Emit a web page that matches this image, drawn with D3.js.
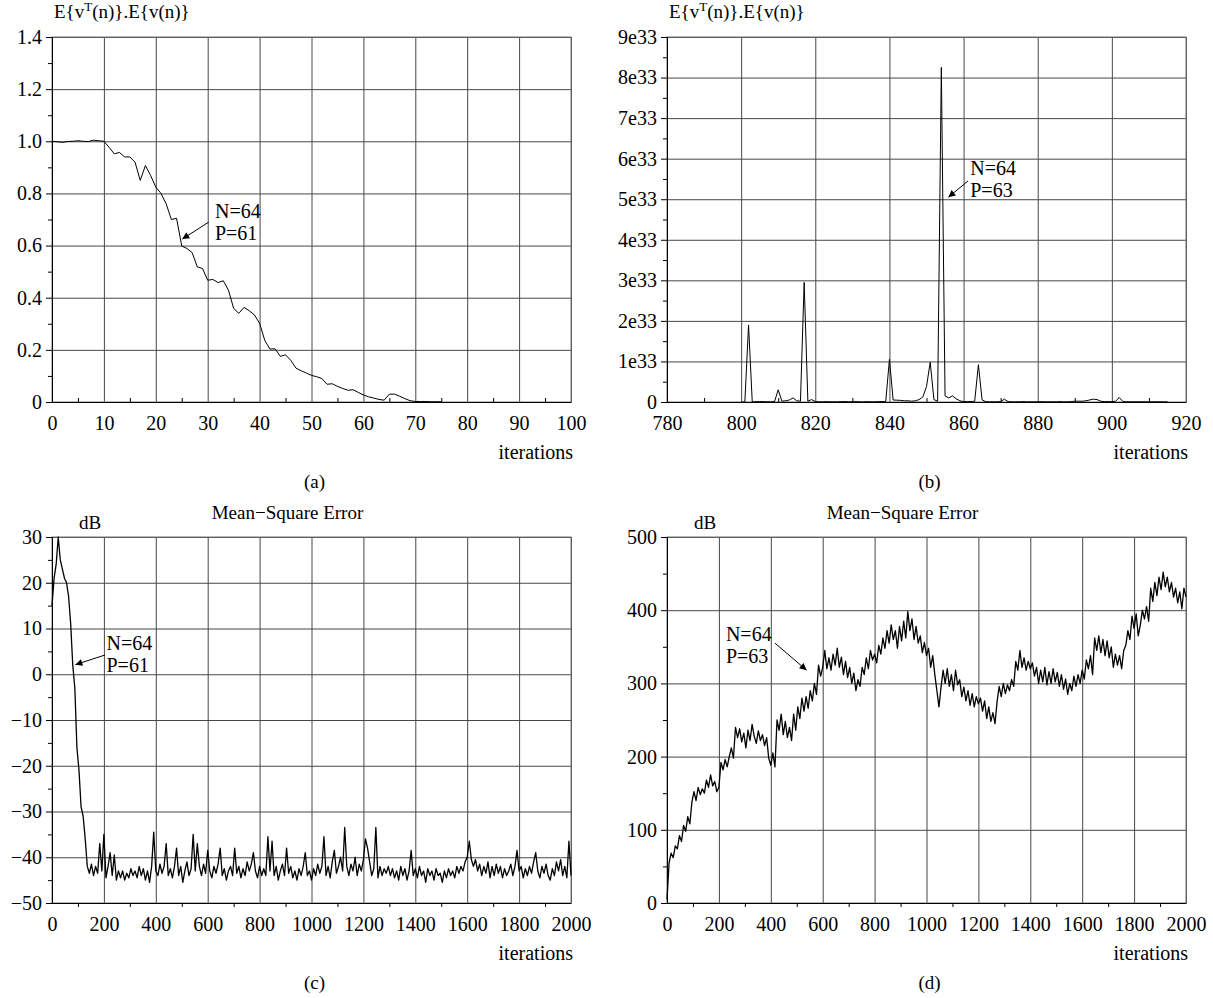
<!DOCTYPE html>
<html>
<head>
<meta charset="utf-8">
<script src="https://cdn.jsdelivr.net/npm/d3@7"></script>
<style>
  body { margin: 0; background: #fff; }
  svg text { font-family: "Liberation Serif", "Times New Roman", serif; fill: #000; }
</style>
</head>
<body>
<svg id="chart" width="1213" height="998"></svg>
<script>
// (a) E{v^T(n)}.E{v(n)}, iterations 0..75
const aStart = 0;
const aValues = [1.0, 0.998, 0.996, 0.999, 1.0, 1.002, 1.0, 0.999, 1.004, 1.002,
  1.0, 0.977, 0.952, 0.957, 0.94, 0.94, 0.92, 0.85, 0.907, 0.869,
  0.824, 0.80, 0.76, 0.70, 0.705, 0.598, 0.589, 0.573, 0.518, 0.512,
  0.467, 0.47, 0.458, 0.465, 0.429, 0.359, 0.34, 0.363, 0.35, 0.334,
  0.302, 0.236, 0.203, 0.204, 0.175, 0.181, 0.16, 0.13, 0.12, 0.111,
  0.102, 0.097, 0.09, 0.068, 0.07, 0.06, 0.052, 0.045, 0.047, 0.037,
  0.027, 0.02, 0.015, 0.01, 0.007, 0.03, 0.03, 0.022, 0.013, 0.005,
  0.002, 0.002, 0.002, 0.001, 0.001, 0.001];

// (b) same quantity, iterations 800..915, in units of 1e33
const bStart = 800;
const bValues = [0, 0, 1.9, 0, 0.01, 0.01, 0.01, 0.005, 0.005, 0.01,
  0.3, 0.02, 0.03, 0.05, 0.1, 0.03, 0.02, 2.95, 0.02, 0.06,
  0.01, 0.005, 0.005, 0.01, 0.005, 0.005, 0.005, 0.01, 0.01, 0.005,
  0.005, 0.01, 0.005, 0.005, 0.01, 0.005, 0.005, 0.01, 0.01, 0.01,
  1.05, 0.05, 0.045, 0.04, 0.03, 0.03, 0.02, 0.03, 0.06, 0.12,
  0.38, 0.98, 0.06, 0.02, 8.25, 0.15, 0.1, 0.15, 0.08, 0.03,
  0.01, 0.01, 0.01, 0.02, 0.92, 0.05, 0.01, 0.005, 0.005, 0.005,
  0.01, 0.07, 0.01, 0.005, 0.005, 0.005, 0.01, 0.005, 0.005, 0.005,
  0.005, 0.01, 0.005, 0.005, 0.005, 0.005, 0.01, 0.005, 0.005, 0.01,
  0.02, 0.02, 0.02, 0.03, 0.05, 0.07, 0.06, 0.02, 0.01, 0.01,
  0.01, 0.02, 0.11, 0.01, 0.005, 0.005, 0.005, 0.005, 0.005, 0.005,
  0.005, 0.005, 0.005, 0.005, 0.005, 0.005];

// (c) Mean-Square Error in dB, sampled every 8 iterations
const cStep = 8;
const cValues = [15, 21, 24, 30, 25, 23, 21, 20, 17, 11, 2, -3, -16, -21, -29, -31, -36,
  -42, -43.5, -41.5, -44, -42, -43.5, -37, -43, -35,
  -44.5, -42, -39, -44, -39.5, -45, -43, -44.5, -43, -45, -43.5, -44.5, -42.5, -44, -43, -44.5, -42, -44, -42.5, -45, -43, -45.5, -42, -34.5, -43,
  -44, -41.5, -43.5, -42, -37, -44, -42.5, -44.5, -42, -38, -44, -42, -45.5, -43, -41, -44, -42.5, -35, -43, -37, -42, -44, -41.5, -43.5, -38.5,
  -43, -44.5, -42, -43.5, -41.5, -38, -44, -42.5, -45, -43, -42, -44, -38, -43.5, -42, -44.5, -42.5, -44, -41, -43, -41.5, -39, -43, -44.5, -42,
  -44, -42.5, -44, -35.5, -43, -36.5, -44, -42, -45, -43, -41.5, -44, -38, -43.5, -42, -44.5, -43, -45, -42.5, -44, -42, -39, -44, -43, -45,
  -42.5, -44, -41.5, -43.5, -42, -35.5, -44, -42, -44.5, -41, -38.5, -43.5, -42, -40, -43, -33.5, -42, -44, -41.5, -43, -40, -44, -41.5, -43, -40.5,
  -36, -38, -41, -44, -42.5, -33.5, -44.5, -42, -44, -42.5, -43.5, -42, -44, -42.5, -44.5, -43, -45, -42, -44, -42.5, -45, -43, -38.5, -44, -42.5,
  -44.5, -42, -44, -43, -45.5, -42.5, -44, -43, -45, -42.5, -44, -43.5, -45.5, -43, -44.5, -42.5, -44, -43, -44.5, -42, -43.5, -42, -43, -41, -40,
  -36.5, -40.5, -42, -40.5, -43, -41.5, -44, -42, -43.5, -41, -44.5, -42, -44, -41.5, -43.5, -42, -44.5, -42.5, -44, -43, -41.5, -44, -42, -38.5, -43,
  -42, -44.5, -42.5, -44, -42, -43.5, -41, -39, -43, -44.5, -42, -43.5, -41.5, -44, -45, -42.5, -44, -41, -43, -40.5, -44, -42, -44.5, -36.5, -44];

// (d) Mean-Square Error in dB, sampled every 8 iterations
const dStep = 8;
const dValues = [5, 55, 68, 62, 78, 74, 92, 84, 106, 98, 118, 108, 138, 152, 140, 158, 148, 156, 150, 168, 158, 175, 160, 166, 152, 158,
  192, 182, 196, 186, 200, 212, 198, 240, 226, 238, 220, 232, 212, 236, 222, 244, 228, 218, 235, 222, 230, 215, 226, 198, 188,
  205, 186, 250, 236, 258, 230, 248, 226, 240, 222, 258, 236, 268, 252, 280, 262, 282, 266, 290, 276, 300, 285, 325, 310, 322,
  345, 320, 335, 318, 340, 325, 348, 322, 336, 312, 330, 308, 322, 300, 314, 290, 305, 296, 322, 312, 335, 320, 345, 332, 340,
  328, 352, 340, 362, 348, 372, 355, 380, 360, 372, 348, 378, 358, 385, 362, 398, 372, 388, 360, 378, 355, 365, 342, 356, 338,
  348, 322, 338, 312, 290, 268, 295, 318, 300, 320, 296, 312, 290, 318, 298, 305, 282, 295, 276, 290, 270, 286, 268, 282, 272,
  280, 262, 276, 252, 268, 248, 260, 245, 275, 296, 282, 300, 286, 298, 290, 305, 296, 330, 318, 345, 322, 335, 318, 330, 320,
  328, 310, 322, 300, 318, 302, 322, 298, 316, 300, 320, 302, 315, 296, 312, 292, 306, 285, 300, 290, 310, 296, 312, 300, 318,
  306, 332, 320, 338, 312, 362, 345, 365, 342, 360, 338, 358, 335, 350, 322, 340, 325, 338, 320, 345, 352, 372, 360, 392, 375,
  395, 365, 380, 400, 388, 405, 385, 430, 412, 438, 420, 445, 428, 452, 432, 445, 425, 438, 418, 430, 410, 425, 402, 430, 418];

const aData = aValues.map((v, i) => [aStart + i, v]);
const bData = bValues.map((v, i) => [bStart + i, v]);
const cData = cValues.map((v, i) => [i * cStep, v]);
const dData = dValues.map((v, i) => [i * dStep, v]);

const svg = d3.select("#chart");
svg.append("rect").attr("width", 1213).attr("height", 998).attr("fill", "#fff");

svg.append("defs").append("marker")
  .attr("id", "arrow")
  .attr("viewBox", "0 0 10 10")
  .attr("refX", 10).attr("refY", 5)
  .attr("markerWidth", 9).attr("markerHeight", 7)
  .attr("markerUnits", "userSpaceOnUse")
  .attr("orient", "auto")
  .append("path").attr("d", "M0,0L10,5L0,10z").attr("fill", "#000");

const yTitle = (g, x, y) => {
  const t = g.append("text").attr("x", x).attr("y", y).style("font-size", "19px");
  t.append("tspan").text("E{v");
  t.append("tspan").attr("dy", -7).style("font-size", "13px").text("T");
  t.append("tspan").attr("dy", 7).text("(n)}.E{v(n)}");
};

function drawPanel(p) {
  const x = d3.scaleLinear().domain(p.xDomain).range([p.left, p.right]);
  const y = d3.scaleLinear().domain(p.yDomain).range([p.bottom, p.top]);
  const g = svg.append("g");
  const w = p.right - p.left, h = p.bottom - p.top;

  // grid
  g.append("g").attr("transform", `translate(0,${p.bottom})`)
    .call(d3.axisBottom(x).tickValues(p.xTicks).tickSize(-h).tickFormat(""))
    .call(s => s.select(".domain").remove())
    .selectAll("line").attr("stroke", "#474747");
  g.append("g").attr("transform", `translate(${p.left},0)`)
    .call(d3.axisLeft(y).tickValues(p.yTicks).tickSize(-w).tickFormat(""))
    .call(s => s.select(".domain").remove())
    .selectAll("line").attr("stroke", "#474747");

  // frame
  g.append("rect").attr("x", p.left).attr("y", p.top).attr("width", w).attr("height", h)
    .attr("fill", "none").attr("stroke", "#777");

  // minor ticks
  g.append("g").attr("transform", `translate(0,${p.bottom})`)
    .call(d3.axisBottom(x).tickValues(p.xMinor).tickSize(p.xMinorIn ? -4 : 4).tickFormat(""))
    .call(s => s.select(".domain").remove());
  g.append("g").attr("transform", `translate(${p.left},0)`)
    .call(d3.axisLeft(y).tickValues(p.yMinor).tickSize(4).tickFormat(""))
    .call(s => s.select(".domain").remove());

  // main axes
  const ax = g.append("g").attr("transform", `translate(0,${p.bottom})`)
    .call(d3.axisBottom(x).tickValues(p.xTicks).tickSize(0).tickPadding(14).tickFormat(d3.format("d")));
  const ay = g.append("g").attr("transform", `translate(${p.left},0)`)
    .call(d3.axisLeft(y).tickValues(p.yTicks).tickSize(6).tickPadding(4).tickFormat(p.yFormat));
  [ax, ay].forEach(a => {
    a.attr("font-family", null).attr("font-size", null);
    a.selectAll("text").style("font-size", "20px");
    a.select(".domain").attr("stroke", "#000");
  });

  // data line
  g.append("path").datum(p.data)
    .attr("fill", "none").attr("stroke", "#000").attr("stroke-width", p.lineWidth)
    .attr("stroke-linejoin", "round")
    .attr("d", d3.line().x(d => x(d[0])).y(d => y(d[1])));

  // texts
  g.append("text").attr("x", p.right + 2).attr("y", p.bottom + 57)
    .attr("text-anchor", "end").style("font-size", "20px").text("iterations");
  g.append("text").attr("x", (p.left + p.right) / 2 + 3).attr("y", p.bottom + 86)
    .attr("text-anchor", "middle").style("font-size", "19px").text(p.tag);
  if (p.title) {
    g.append("text").attr("x", (p.left + p.right) / 2 - 24).attr("y", p.top - 18)
      .attr("text-anchor", "middle").style("font-size", "19px").text(p.title);
    g.append("text").attr("x", p.left + 27).attr("y", p.top - 8)
      .style("font-size", "19px").text("dB");
  } else {
    yTitle(g, p.left + 2, p.top - 19);
  }

  // annotation
  const n = p.note;
  g.append("line")
    .attr("x1", x(n.from[0])).attr("y1", y(n.from[1]))
    .attr("x2", x(n.tip[0])).attr("y2", y(n.tip[1]))
    .attr("stroke", "#000").attr("stroke-width", 1).attr("marker-end", "url(#arrow)");
  n.lines.forEach((txt, i) => {
    g.append("text").attr("x", x(n.text[0])).attr("y", y(n.text[1]) + i * 22)
      .style("font-size", "20px").text(txt);
  });
}

const range = (a, b, s) => d3.range(a, b + s / 2, s);

drawPanel({
  left: 52, right: 571, top: 37, bottom: 402,
  xDomain: [0, 100], yDomain: [0, 1.4],
  xTicks: range(0, 100, 10), xMinor: range(5, 95, 10), xMinorIn: true,
  yTicks: range(0, 1.4, 0.2), yMinor: range(0.1, 1.3, 0.2),
  yFormat: d => d === 0 ? "0" : d3.format(".1f")(d),
  data: aData, lineWidth: 1, tag: "(a)",
  note: { from: [30.2, 0.69], tip: [25.1, 0.625], text: [31.4, 0.705], lines: ["N=64", "P=61"] }
});

drawPanel({
  left: 667, right: 1186, top: 37, bottom: 402,
  xDomain: [780, 920], yDomain: [0, 9],
  xTicks: range(780, 920, 20), xMinor: range(790, 910, 20), xMinorIn: true,
  yTicks: range(0, 9, 1), yMinor: range(0.5, 8.5, 1),
  yFormat: d => d === 0 ? "0" : d + "e33",
  data: bData, lineWidth: 1, tag: "(b)",
  note: { from: [861.2, 5.45], tip: [855.9, 5.05], text: [861.8, 5.6], lines: ["N=64", "P=63"] }
});

drawPanel({
  left: 52, right: 571, top: 537, bottom: 903,
  xDomain: [0, 2000], yDomain: [-50, 30],
  xTicks: range(0, 2000, 200), xMinor: range(100, 1900, 200), xMinorIn: false,
  yTicks: range(-50, 30, 10), yMinor: range(-45, 25, 10),
  yFormat: d3.format("d"),
  data: cData, lineWidth: 1.3, tag: "(c)", title: "Mean\u2212Square Error",
  note: { from: [204, 4.2], tip: [90, 2.1], text: [210, 5.3], lines: ["N=64", "P=61"] }
});

drawPanel({
  left: 667, right: 1186, top: 537, bottom: 903,
  xDomain: [0, 2000], yDomain: [0, 500],
  xTicks: range(0, 2000, 200), xMinor: range(100, 1900, 200), xMinorIn: false,
  yTicks: range(0, 500, 100), yMinor: range(50, 450, 100),
  yFormat: d3.format("d"),
  data: dData, lineWidth: 1.3, tag: "(d)", title: "Mean\u2212Square Error",
  note: { from: [416, 355], tip: [538, 318], text: [227, 358], lines: ["N=64", "P=63"] }
});
</script>
</body>
</html>
